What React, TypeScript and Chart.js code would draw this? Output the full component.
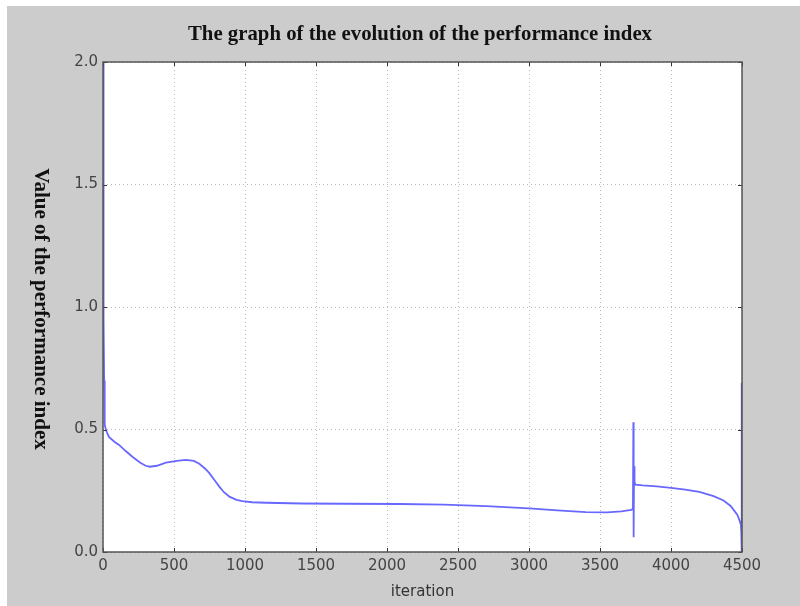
import React, { useEffect, useRef } from "react";
import { Chart, registerables } from "chart.js";

Chart.register(...registerables);

const titleText = "The graph of the evolution of the performance index";
const yTitleText = "Value of the performance index";
const xTitleText = "iteration";

const iterations = [
  0, 2, 4, 6, 8, 10, 14, 20, 30, 42, 80, 113, 160, 207, 260, 300, 330, 380, 443, 520,
  584, 640, 678, 720, 749, 790, 819, 850, 890, 940, 982, 1050, 1149, 1400, 1700, 2090,
  2400, 2700, 3000, 3200, 3400, 3550, 3650, 3720, 3732, 3735, 3736, 3737, 3738, 3740,
  3743, 3750, 3800, 3900, 4000, 4100, 4200, 4300, 4370, 4420, 4468, 4485, 4492, 4495,
  4497, 4498, 4499, 4500,
];
const perfIndex = [
  2.0, 1.7, 1.3, 0.95, 0.7, 0.58, 0.52, 0.5, 0.485, 0.47, 0.45, 0.437, 0.412, 0.389,
  0.365, 0.352, 0.348, 0.352, 0.365, 0.372, 0.376, 0.372, 0.36, 0.34, 0.322, 0.29, 0.267,
  0.245, 0.226, 0.213, 0.208, 0.203, 0.201, 0.198, 0.197, 0.196, 0.193, 0.187, 0.178,
  0.17, 0.163, 0.162, 0.166, 0.172, 0.176, 0.53, 0.06, 0.45, 0.08, 0.35, 0.285, 0.275,
  0.272, 0.268, 0.262, 0.255, 0.245, 0.228, 0.21, 0.188, 0.151, 0.125, 0.11, 0.08, 0.0,
  0.69, 0.02, 0.5,
];
const xTicks = [0, 500, 1000, 1500, 2000, 2500, 3000, 3500, 4000, 4500];
const yTicks = [0, 0.5, 1.0, 1.5, 2.0];

const decorPlugin = {
  id: "decor",
  beforeDraw(chart: any) {
    const { ctx, chartArea: a } = chart;
    ctx.save();
    ctx.fillStyle = "#ffffff";
    ctx.fillRect(0, 0, chart.width, chart.height);
    ctx.fillStyle = "#cccccc";
    ctx.fillRect(7, 6, chart.width - 7, chart.height - 6);
    ctx.fillStyle = "#ffffff";
    ctx.fillRect(a.left, a.top, a.right - a.left, a.bottom - a.top);
    ctx.restore();
  },
  afterDraw(chart: any) {
    const { ctx, chartArea: a } = chart;
    const xs = chart.scales.x;
    const ys = chart.scales.y;
    ctx.save();
    // ticks inward
    ctx.strokeStyle = "#333333";
    ctx.lineWidth = 1;
    ctx.beginPath();
    xTicks.forEach((t) => {
      const px = Math.round(xs.getPixelForValue(t)) + 0.5;
      ctx.moveTo(px, a.bottom);
      ctx.lineTo(px, a.bottom - 4);
      ctx.moveTo(px, a.top);
      ctx.lineTo(px, a.top + 4);
    });
    yTicks.forEach((t) => {
      const py = Math.round(ys.getPixelForValue(t)) + 0.5;
      ctx.moveTo(a.left, py);
      ctx.lineTo(a.left + 4, py);
      ctx.moveTo(a.right, py);
      ctx.lineTo(a.right - 4, py);
    });
    ctx.stroke();
    // frame
    ctx.strokeStyle = "#555555";
    ctx.lineWidth = 1.5;
    ctx.strokeRect(a.left, a.top, a.right - a.left, a.bottom - a.top);
    // title
    ctx.fillStyle = "#111111";
    ctx.textAlign = "center";
    ctx.textBaseline = "alphabetic";
    ctx.font = "bold 21px 'Liberation Serif'";
    ctx.fillText(titleText, 420, 40, 464);
    // y title rotated clockwise
    ctx.translate(40, 309);
    ctx.rotate(Math.PI / 2);
    ctx.textBaseline = "middle";
    ctx.font = "bold 21px 'Liberation Serif'";
    ctx.fillText(yTitleText, 0, 0, 282);
    ctx.restore();
    ctx.save();
    ctx.fillStyle = "#333333";
    ctx.textAlign = "center";
    ctx.textBaseline = "middle";
    ctx.font = "15px 'DejaVu Sans'";
    ctx.fillText(xTitleText, (a.left + a.right) / 2, 592);
    ctx.restore();
  },
};

export default function App() {
  const ref = useRef<HTMLCanvasElement>(null);
  useEffect(() => {
    if (!ref.current) return;
    const data = iterations.map((x, i) => ({ x, y: perfIndex[i] }));
    const chart = new Chart(ref.current, {
      type: "line",
      data: {
        datasets: [
          {
            data,
            borderColor: "rgba(40,40,255,0.7)",
            borderWidth: 1.8,
            pointRadius: 0,
            tension: 0,
            fill: false,
          },
        ],
      },
      options: {
        animation: false,
        responsive: false,
        layout: { padding: { top: 62, right: 58, left: 0, bottom: 0 } },
        plugins: { legend: { display: false }, tooltip: { enabled: false }, title: { display: false } },
        scales: {
          x: {
            type: "linear",
            min: 0,
            max: 4500,
            afterFit: (s: any) => {
              s.height = 54;
            },
            afterBuildTicks: (s: any) => {
              s.ticks = xTicks.map((v) => ({ value: v }));
            },
            ticks: {
              padding: 5,
              color: "#444444",
              font: { family: "'DejaVu Sans'", size: 15 },
              maxRotation: 0,
              callback: (v: any) => String(v),
            },
            grid: {
              color: "rgba(0,0,0,0.28)",
              lineWidth: 1,
              drawTicks: false,
            },
            border: { display: false, dash: [1, 3] },
          },
          y: {
            type: "linear",
            min: 0,
            max: 2,
            afterFit: (s: any) => {
              s.width = 103;
            },
            afterBuildTicks: (s: any) => {
              s.ticks = yTicks.map((v) => ({ value: v }));
            },
            ticks: {
              padding: 5,
              color: "#444444",
              font: { family: "'DejaVu Sans'", size: 15 },
              callback: (v: any) => Number(v).toFixed(1),
            },
            grid: {
              color: "rgba(0,0,0,0.28)",
              lineWidth: 1,
              drawTicks: false,
            },
            border: { display: false, dash: [1, 3] },
          },
        },
      },
      plugins: [decorPlugin],
    });
    return () => chart.destroy();
  }, []);
  return (
    <div style={{ position: "fixed", left: 0, top: 0, width: 800, height: 606 }}>
      <canvas ref={ref} width={800} height={606} style={{ display: "block", width: 800, height: 606 }} />
    </div>
  );
}
